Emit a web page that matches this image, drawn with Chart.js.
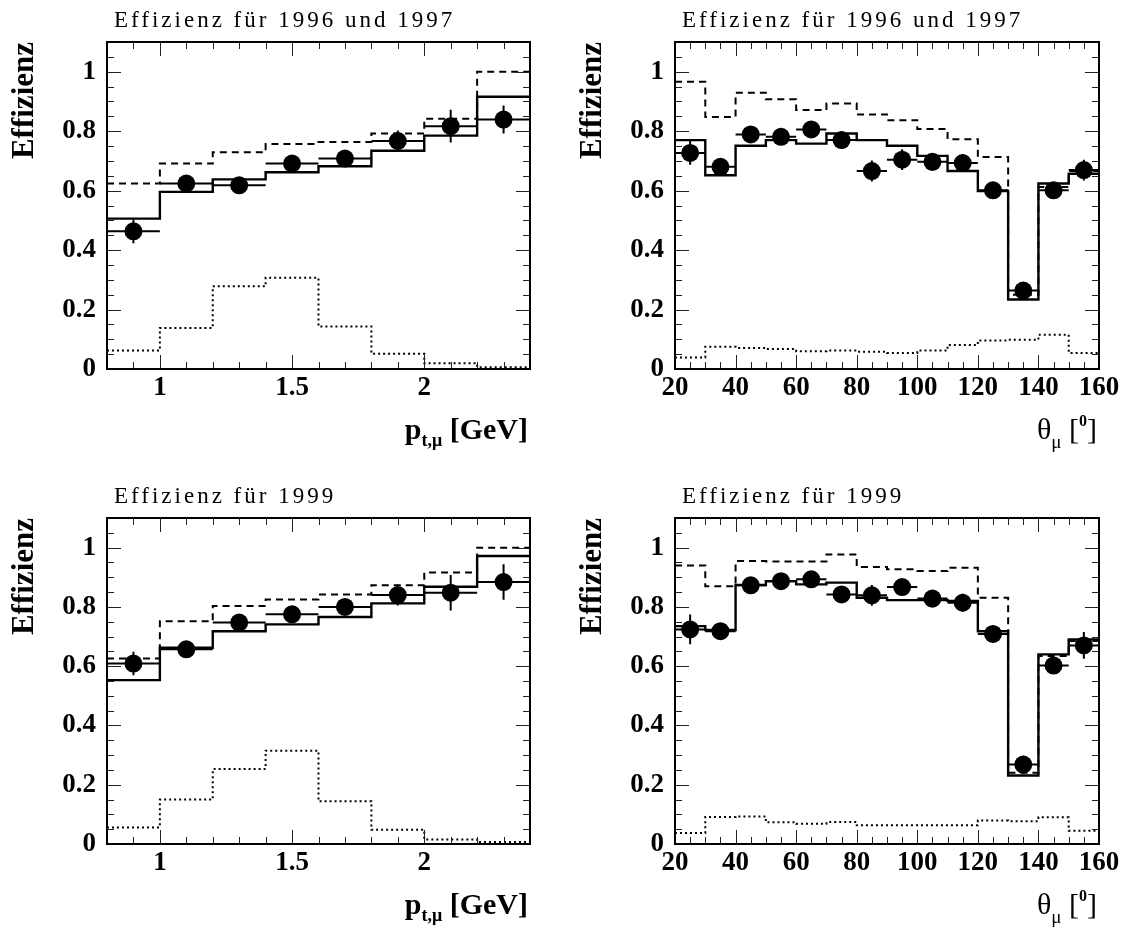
<!DOCTYPE html>
<html>
<head>
<meta charset="utf-8">
<title>Effizienz</title>
<script src="https://cdn.jsdelivr.net/npm/chart.js@4.4.1/dist/chart.umd.min.js"></script>
<style>
  body { margin: 0; background: #fff; }
  #page { position: relative; width: 1128px; height: 931px; overflow: hidden; background: #fff; }
  canvas { position: absolute; }
</style>
</head>
<body>
<div id="page">
  <canvas id="c1" width="564" height="476" style="left:0;top:0"></canvas>
  <canvas id="c2" width="564" height="476" style="left:564px;top:0"></canvas>
  <canvas id="c3" width="564" height="455" style="left:0;top:476px"></canvas>
  <canvas id="c4" width="564" height="455" style="left:564px;top:476px"></canvas>
</div>
<script>
// bins
const ptEdges = [0.8, 1.0, 1.2, 1.4, 1.6, 1.8, 2.0, 2.2, 2.4];
const ptCenters = [0.9, 1.1, 1.3, 1.5, 1.7, 1.9, 2.1, 2.3];
const thetaEdges = [20, 30, 40, 50, 60, 70, 80, 90, 100, 110, 120, 130, 140, 150, 160];
const thetaCenters = [25, 35, 45, 55, 65, 75, 85, 95, 105, 115, 125, 135, 145, 155];

const titleTop = 'Effizienz für 1996 und 1997';
const titleBottom = 'Effizienz für 1999';
const yTitle = 'Effizienz';

// 1996/97, p_t
const pt9697Data   = [0.463, 0.624, 0.618, 0.691, 0.708, 0.767, 0.817, 0.839];
const pt9697Err    = [0.040, 0.020, 0.020, 0.020, 0.020, 0.035, 0.055, 0.047];
const pt9697Solid  = [0.506, 0.596, 0.638, 0.662, 0.682, 0.734, 0.785, 0.916];
const pt9697Dashed = [0.624, 0.691, 0.729, 0.757, 0.764, 0.792, 0.842, 1.000];
const pt9697Dotted = [0.062, 0.138, 0.278, 0.307, 0.143, 0.051, 0.019, 0.006];

// 1996/97, theta
const th9697Data   = [0.727, 0.680, 0.789, 0.781, 0.806, 0.770, 0.666, 0.704, 0.697, 0.693, 0.601, 0.264, 0.601, 0.669];
const th9697Err    = [0.040, 0.025, 0.020, 0.020, 0.025, 0.030, 0.035, 0.035, 0.030, 0.030, 0.020, 0.020, 0.020, 0.035];
const th9697Solid  = [0.770, 0.652, 0.751, 0.770, 0.758, 0.792, 0.770, 0.751, 0.717, 0.666, 0.599, 0.234, 0.624, 0.657];
const th9697Dashed = [0.966, 0.848, 0.929, 0.907, 0.871, 0.893, 0.856, 0.837, 0.807, 0.773, 0.713, 0.250, 0.612, 0.666];
const th9697Dotted = [0.039, 0.075, 0.071, 0.067, 0.060, 0.062, 0.058, 0.054, 0.062, 0.081, 0.096, 0.098, 0.115, 0.054];

// 1999, p_t
const pt99Data   = [0.609, 0.657, 0.747, 0.775, 0.800, 0.840, 0.848, 0.884];
const pt99Err    = [0.040, 0.020, 0.020, 0.020, 0.020, 0.035, 0.060, 0.060];
const pt99Solid  = [0.553, 0.662, 0.718, 0.741, 0.766, 0.812, 0.868, 0.972];
const pt99Dashed = [0.626, 0.752, 0.803, 0.825, 0.842, 0.873, 0.916, 1.000];
const pt99Dotted = [0.056, 0.150, 0.253, 0.315, 0.144, 0.048, 0.015, 0.007];

// 1999, theta
const th99Data   = [0.724, 0.718, 0.873, 0.887, 0.893, 0.842, 0.839, 0.867, 0.828, 0.814, 0.709, 0.268, 0.602, 0.670];
const th99Err    = [0.050, 0.020, 0.020, 0.020, 0.020, 0.020, 0.035, 0.020, 0.030, 0.030, 0.030, 0.030, 0.025, 0.045];
const th99Solid  = [0.735, 0.722, 0.874, 0.887, 0.876, 0.882, 0.831, 0.823, 0.823, 0.820, 0.718, 0.231, 0.640, 0.690];
const th99Dashed = [0.940, 0.870, 0.955, 0.953, 0.953, 0.977, 0.935, 0.927, 0.921, 0.932, 0.831, 0.240, 0.634, 0.685];
const th99Dotted = [0.037, 0.091, 0.093, 0.073, 0.068, 0.074, 0.063, 0.063, 0.063, 0.063, 0.079, 0.077, 0.090, 0.045];

const SERIF = '"Liberation Serif", "Times New Roman", serif';

// x axis titles, split into pieces for sub/superscripts
const ptLabel = [
  { t: 'p', font: 'bold 30px ' + SERIF, dy: 0 },
  { t: 't,μ', font: 'bold 18px ' + SERIF, dy: 7 },
  { t: ' [GeV]', font: 'bold 30px ' + SERIF, dy: 0 }
];
const thetaLabel = [
  { t: 'θ', font: '30px ' + SERIF, dy: 0 },
  { t: 'μ', font: '19px ' + SERIF, dy: 9 },
  { t: ' [', font: '30px ' + SERIF, dy: 0 },
  { t: '0', font: 'bold 16px ' + SERIF, dy: -13 },
  { t: ']', font: '30px ' + SERIF, dy: 0 }
];

function stepData(edges, values) {
  const pts = values.map((v, i) => ({ x: edges[i], y: v }));
  pts.push({ x: edges[edges.length - 1], y: values[values.length - 1] });
  return pts;
}

function pointData(centers, values, errs) {
  return centers.map((c, i) => ({ x: c, y: values[i], e: errs[i] }));
}

function fmt(v) {
  return String(Math.round(v * 10) / 10);
}

// frame, inward ticks, error bars, texts
const decorPlugin = {
  id: 'decor',
  afterDatasetsDraw(chart, args, o) {
    const ctx = chart.ctx;
    const a = chart.chartArea;
    const xs = chart.scales.x, ys = chart.scales.y;
    ctx.save();

    // error bars
    ctx.strokeStyle = '#000';
    ctx.lineWidth = 2;
    chart.data.datasets[0].data.forEach(p => {
      const px = xs.getPixelForValue(p.x);
      const py = ys.getPixelForValue(p.y);
      ctx.beginPath();
      ctx.moveTo(xs.getPixelForValue(p.x - o.halfBin), py);
      ctx.lineTo(xs.getPixelForValue(p.x + o.halfBin), py);
      ctx.moveTo(px, ys.getPixelForValue(p.y - p.e));
      ctx.lineTo(px, ys.getPixelForValue(p.y + p.e));
      ctx.stroke();
    });

    // ticks pointing inwards, on all four sides
    ctx.lineWidth = 1;
    ctx.strokeStyle = '#222';
    ctx.beginPath();
    let n = Math.round((o.xMax - o.xMin) / o.xMinor);
    for (let i = 0; i <= n; i++) {
      const v = o.xMin + i * o.xMinor;
      const r = v / o.xMajor;
      const len = Math.abs(r - Math.round(r)) < 1e-6 ? 14 : 7;
      const px = Math.round(xs.getPixelForValue(v)) + 0.5;
      ctx.moveTo(px, a.bottom); ctx.lineTo(px, a.bottom - len);
      ctx.moveTo(px, a.top); ctx.lineTo(px, a.top + len);
    }
    n = Math.round(1.1 / 0.05);
    for (let i = 0; i <= n; i++) {
      const v = i * 0.05;
      const r = v / 0.2;
      const len = Math.abs(r - Math.round(r)) < 1e-6 ? 14 : 7;
      const py = Math.round(ys.getPixelForValue(v)) + 0.5;
      ctx.moveTo(a.left, py); ctx.lineTo(a.left + len, py);
      ctx.moveTo(a.right, py); ctx.lineTo(a.right - len, py);
    }
    ctx.stroke();

    // frame
    ctx.lineWidth = 2;
    ctx.strokeStyle = '#000';
    ctx.strokeRect(a.left, a.top, a.right - a.left, a.bottom - a.top);
    ctx.restore();
  },
  afterDraw(chart, args, o) {
    const ctx = chart.ctx;
    const a = chart.chartArea;
    ctx.save();
    ctx.fillStyle = '#000';
    ctx.textBaseline = 'alphabetic';

    // panel title
    ctx.font = '23px ' + SERIF;
    ctx.letterSpacing = '3px';
    ctx.textAlign = 'left';
    ctx.fillText(o.title, a.left + 7, a.top - 15);
    ctx.letterSpacing = '0px';

    // y title
    ctx.save();
    ctx.translate(a.left - 74, a.top);
    ctx.rotate(-Math.PI / 2);
    ctx.font = 'bold 31px ' + SERIF;
    ctx.textAlign = 'right';
    ctx.fillText(yTitle, 0, 0);
    ctx.restore();

    // x title, right aligned
    let w = 0;
    o.xLabel.forEach(s => { ctx.font = s.font; w += ctx.measureText(s.t).width; });
    let x = a.right - 2 - w;
    const base = a.bottom + 70;
    o.xLabel.forEach(s => {
      ctx.font = s.font;
      ctx.fillText(s.t, x, base + s.dy);
      x += ctx.measureText(s.t).width;
    });
    ctx.restore();
  }
};

function makePanel(id, cfg) {
  const canvas = document.getElementById(id);
  const tickFont = { family: SERIF, weight: 'bold', size: 27 };
  return new Chart(canvas.getContext('2d'), {
    type: 'scatter',
    data: {
      datasets: [
        {
          data: pointData(cfg.centers, cfg.values, cfg.errs),
          pointRadius: 9,
          pointHoverRadius: 9,
          pointBackgroundColor: '#000',
          pointBorderWidth: 0,
          showLine: false
        },
        {
          type: 'line',
          data: stepData(cfg.edges, cfg.solid),
          stepped: 'before',
          borderColor: '#000',
          borderWidth: 2.4,
          pointRadius: 0,
          fill: false
        },
        {
          type: 'line',
          data: stepData(cfg.edges, cfg.dashed),
          stepped: 'before',
          borderColor: '#000',
          borderWidth: 2,
          borderDash: [7, 5],
          pointRadius: 0,
          fill: false
        },
        {
          type: 'line',
          data: stepData(cfg.edges, cfg.dotted),
          stepped: 'before',
          borderColor: '#000',
          borderWidth: 2,
          borderDash: [2, 3],
          pointRadius: 0,
          fill: false
        }
      ]
    },
    options: {
      responsive: false,
      animation: false,
      events: [],
      layout: { padding: { top: 42, right: cfg.rightPad, left: 0, bottom: 0 } },
      plugins: {
        legend: { display: false },
        tooltip: { enabled: false },
        decor: {
          title: cfg.title,
          xLabel: cfg.xLabel,
          halfBin: cfg.halfBin,
          xMin: cfg.xMin, xMax: cfg.xMax,
          xMinor: cfg.xMinor, xMajor: cfg.xMajor
        }
      },
      scales: {
        x: {
          type: 'linear',
          min: cfg.xMin,
          max: cfg.xMax,
          afterFit: s => { s.height = cfg.xAxisH; },
          grid: { display: false, drawTicks: false },
          border: { display: false },
          ticks: {
            stepSize: cfg.xStep,
            includeBounds: false,
            maxRotation: 0,
            autoSkip: false,
            padding: 3,
            color: '#000',
            font: tickFont,
            callback: fmt
          }
        },
        y: {
          type: 'linear',
          min: 0,
          max: 1.1,
          afterFit: s => { s.width = cfg.yAxisW; },
          grid: { display: false, drawTicks: false },
          border: { display: false },
          ticks: {
            stepSize: 0.2,
            includeBounds: false,
            padding: 11,
            color: '#000',
            font: tickFont,
            callback: fmt
          }
        }
      }
    },
    plugins: [decorPlugin]
  });
}

const ptAxis = { edges: ptEdges, centers: ptCenters, halfBin: 0.1, xMin: 0.8, xMax: 2.4, xStep: 0.5, xMinor: 0.1, xMajor: 0.5, xLabel: ptLabel, yAxisW: 107, rightPad: 34 };
const thetaAxis = { edges: thetaEdges, centers: thetaCenters, halfBin: 5, xMin: 20, xMax: 160, xStep: 20, xMinor: 5, xMajor: 20, xLabel: thetaLabel, yAxisW: 111, rightPad: 29 };

makePanel('c1', Object.assign({}, ptAxis, { title: titleTop, xAxisH: 107, values: pt9697Data, errs: pt9697Err, solid: pt9697Solid, dashed: pt9697Dashed, dotted: pt9697Dotted }));
makePanel('c2', Object.assign({}, thetaAxis, { title: titleTop, xAxisH: 107, values: th9697Data, errs: th9697Err, solid: th9697Solid, dashed: th9697Dashed, dotted: th9697Dotted }));
makePanel('c3', Object.assign({}, ptAxis, { title: titleBottom, xAxisH: 87, values: pt99Data, errs: pt99Err, solid: pt99Solid, dashed: pt99Dashed, dotted: pt99Dotted }));
makePanel('c4', Object.assign({}, thetaAxis, { title: titleBottom, xAxisH: 87, values: th99Data, errs: th99Err, solid: th99Solid, dashed: th99Dashed, dotted: th99Dotted }));
</script>
</body>
</html>
